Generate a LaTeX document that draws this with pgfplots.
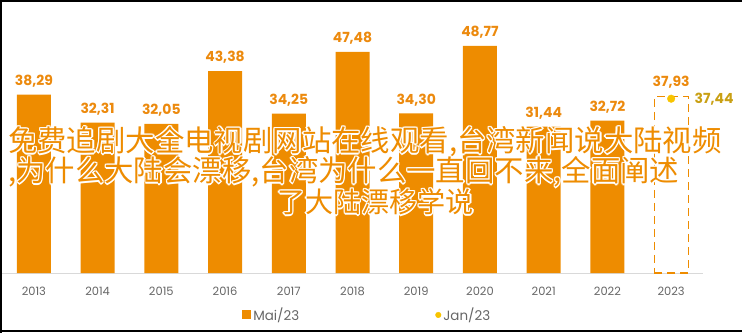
\documentclass[border=0pt]{standalone}
\usepackage{pgfplots}
\pgfplotsset{compat=1.18}
\usepackage{fontspec}
\setmainfont{Poppins}
\newfontfamily\cjk{Noto Sans CJK SC}
\definecolor{barc}{HTML}{EE8C00}
\definecolor{labc}{HTML}{EC8A0E}
\definecolor{dotc}{HTML}{F8C400}
\definecolor{goldc}{HTML}{C9A014}
\definecolor{tickc}{HTML}{666666}
\definecolor{axc}{HTML}{D9D9D9}
\newcommand\cjkline[4]{%
  \foreach \d in {0,45,...,315}{%
    \begin{scope}[shift={(\d:1.3bp)}]
      \node[anchor=west,inner sep=0pt,text=white,font=\cjk\fontsize{#3}{32}\selectfont] at (#1bp,#2bp) {#4};
    \end{scope}}%
  \node[anchor=west,inner sep=0pt,text=barc,font=\cjk\fontsize{#3}{32}\selectfont] at (#1bp,#2bp) {#4};}
\begin{document}
\begin{tikzpicture}
\useasboundingbox (0bp,0bp) rectangle (742bp,333bp);
\begin{axis}[
  at={(2bp,60bp)}, anchor=south west,
  scale only axis, width=701bp, height=260.7bp,
  xmin=-0.5, xmax=10.5, ymin=0, ymax=56,
  axis y line=none, axis x line*=bottom,
  x axis line style={draw=axc, line width=1bp, -},
  xtick={0,1,2,3,4,5,6,7,8,9,10},
  xticklabels={2013,2014,2015,2016,2017,2018,2019,2020,2021,2022,2023},
  major tick length=0pt,
  xticklabel style={font=\fontsize{11.5}{13}\selectfont, text=tickc, yshift=-11bp},
  /pgf/number format/assume math mode=true,
  /pgf/number format/.cd, use comma, fixed, fixed zerofill, precision=2, 1000 sep={},
  /pgfplots/.cd,
  legend columns=2,
  legend style={at={(0.521,-0.161)}, anchor=center, draw=none, fill=none,
    font=\fontsize{13.5}{15}\selectfont, text=tickc,
    /tikz/every even column/.append style={column sep=134bp}},
  clip=false,
]
\addplot[ybar, bar width=34bp, bar shift=0pt, fill=barc, draw=none,
  nodes near coords,
  nodes near coords style={font=\bfseries\fontsize{14}{16}\selectfont, text=labc, yshift=4bp},
  legend image code/.code={\fill[barc] (0bp,-4.5bp) rectangle (9bp,4.5bp);}]
  coordinates {(0,38.29) (1,32.31) (2,32.05) (3,43.38) (4,34.25) (5,47.48) (6,34.30) (7,48.77) (8,31.44) (9,32.72)};
\addlegendentry{Mai/23}
\addplot[ybar, bar width=34bp, bar shift=0pt, fill=none, draw=barc, line width=1.2bp,
  dash pattern=on 8bp off 5bp, forget plot,
  nodes near coords,
  nodes near coords style={font=\bfseries\fontsize{14}{16}\selectfont, text=labc, yshift=4bp}]
  coordinates {(10,37.93)};
\addplot[only marks, mark=*, mark size=3.8bp, color=dotc,
  nodes near coords,
  nodes near coords style={font=\bfseries\fontsize{14}{16}\selectfont, text=goldc, anchor=west, xshift=20bp},
  legend image code/.code={\fill[dotc] (4bp,0bp) circle (2.8bp);}]
  coordinates {(10,37.44)};
\addlegendentry{Jan/23}
\end{axis}
\cjkline{8}{191}{29.5}{免费追剧大全电视剧网站在线观看,台湾新闻说大陆视频}
\cjkline{8}{161}{29.5}{,为什么大陆会漂移,台湾为什么一直回不来,全面阐述}
\cjkline{277}{131}{28.2}{了大陆漂移学说}
\draw[line width=2bp] (0bp,332bp) -- (742bp,332bp);
\draw[line width=2bp] (1bp,333bp) -- (1bp,0bp);
\draw[line width=2bp] (0bp,2bp) -- (742bp,2bp);
\end{tikzpicture}
\end{document}
